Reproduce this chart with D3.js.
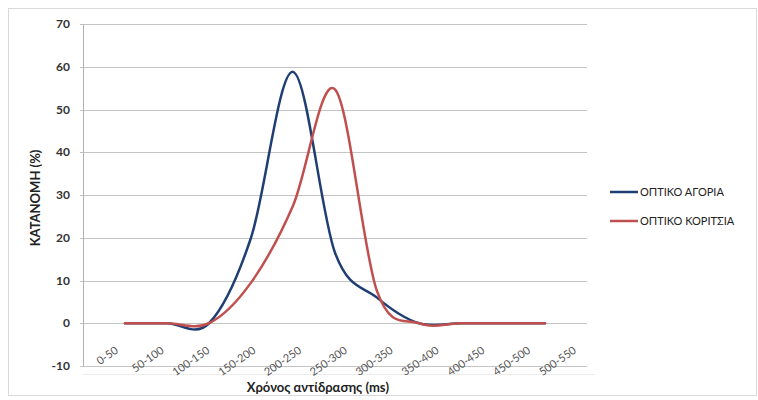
<!DOCTYPE html>
<html>
<head>
<meta charset="utf-8">
<script src="https://cdn.jsdelivr.net/npm/d3@7"></script>
<style>
  body { margin: 0; background: #fff; }
  svg { display: block; font-family: Lato, "Open Sans", sans-serif; }
</style>
</head>
<body>
<svg id="chart"></svg>
<script>
var width = 758,
    height = 400;

// categories on the x axis (reaction time bins, ms)
var categories = ["0-50", "50-100", "100-150", "150-200", "200-250", "250-300",
                  "300-350", "350-400", "400-450", "450-500", "500-550"];

// distribution (%) per series
var boys  = [0, 0, 0, 20, 58.8, 16.5, 6, 0, 0, 0, 0];
var girls = [0, 0, 0, 9.5, 27.5, 54.7, 7.5, 0, 0, 0, 0];

var yTicks = [-10, 0, 10, 20, 30, 40, 50, 60, 70];

var seriesNames = ["ΟΠΤΙΚΟ ΑΓΟΡΙΑ", "ΟΠΤΙΚΟ ΚΟΡΙΤΣΙΑ"];
var seriesColors = ["#1f3f73", "#c0504d"];

var plot = {left: 83, right: 587, top: 24, bottom: 366};

var svg = d3.select("#chart")
    .attr("width", width)
    .attr("height", height);

// outer chart border
svg.append("rect")
    .attr("x", 8.5)
    .attr("y", 8.5)
    .attr("width", 748)
    .attr("height", 387)
    .attr("fill", "#fff")
    .attr("stroke", "#d9d9d9");

var y = d3.scaleLinear()
    .domain([-10, 70])
    .range([plot.bottom, plot.top]);

// labels sit on bands, line points sit with one step of padding
var xBand = d3.scaleBand()
    .domain(categories)
    .range([plot.left, plot.right]);

var xPoint = d3.scalePoint()
    .domain(categories)
    .range([plot.left, plot.right])
    .padding(1);

// gridlines
svg.append("g")
    .selectAll("line")
    .data(yTicks)
    .enter()
    .append("line")
    .attr("x1", plot.left - 3)
    .attr("x2", plot.right)
    .attr("y1", function (d) { return Math.round(y(d)) + 0.5; })
    .attr("y2", function (d) { return Math.round(y(d)) + 0.5; })
    .style("stroke", "#c4c4c4")
    .style("stroke-width", 1.2);

// y axis line
svg.append("line")
    .attr("x1", plot.left + 0.5)
    .attr("x2", plot.left + 0.5)
    .attr("y1", plot.top)
    .attr("y2", plot.bottom)
    .style("stroke", "#b0b0b0");

// faint line under the category labels
svg.append("line")
    .attr("x1", plot.left)
    .attr("x2", plot.right + 8)
    .attr("y1", 374.5)
    .attr("y2", 374.5)
    .style("stroke", "#ececec");

// y tick labels
svg.append("g")
    .selectAll("text")
    .data(yTicks)
    .enter()
    .append("text")
    .attr("x", 70)
    .attr("y", function (d) { return y(d); })
    .attr("dy", "0.35em")
    .attr("text-anchor", "end")
    .style("font-size", "12px")
    .style("font-weight", "bold")
    .style("fill", "#333")
    .text(function (d) { return d; });

// x tick labels, rotated
svg.append("g")
    .selectAll("text")
    .data(categories)
    .enter()
    .append("text")
    .attr("transform", function (d) {
        var cx = xBand(d) + xBand.bandwidth() / 2 + 13;
        return "translate(" + cx + ",352)rotate(-35)";
    })
    .attr("text-anchor", "end")
    .style("font-size", "11px")
    .style("fill", "#555")
    .text(function (d) { return d; });

// series lines
var line = d3.line()
    .x(function (d, i) { return xPoint(categories[i]); })
    .y(function (d) { return y(d); })
    .curve(d3.curveCardinal.tension(0));

[boys, girls].forEach(function (s, i) {
    svg.append("path")
        .datum(s)
        .attr("d", line)
        .attr("fill", "none")
        .style("stroke", seriesColors[i])
        .style("stroke-width", 2.5)
        .style("stroke-linecap", "round");
});

// axis titles
svg.append("text")
    .attr("x", 318)
    .attr("y", 392)
    .attr("text-anchor", "middle")
    .style("font-size", "13px")
    .style("font-weight", "bold")
    .style("fill", "#222")
    .text("Χρόνος αντίδρασης (ms)");

svg.append("text")
    .attr("transform", "translate(40,198)rotate(-90)")
    .attr("text-anchor", "middle")
    .style("font-size", "13px")
    .style("font-weight", "bold")
    .style("fill", "#222")
    .text("ΚΑΤΑΝΟΜΗ (%)");

// legend
var legend = svg.append("g")
    .selectAll("g")
    .data(seriesNames)
    .enter()
    .append("g")
    .attr("transform", function (d, i) { return "translate(610," + (192 + i * 29) + ")"; });

legend.append("line")
    .attr("x1", 0)
    .attr("x2", 28)
    .style("stroke", function (d, i) { return seriesColors[i]; })
    .style("stroke-width", 2.5);

legend.append("text")
    .attr("x", 30)
    .attr("dy", "0.35em")
    .style("font-size", "11px")
    .style("fill", "#222")
    .text(function (d) { return d; });
</script>
</body>
</html>
